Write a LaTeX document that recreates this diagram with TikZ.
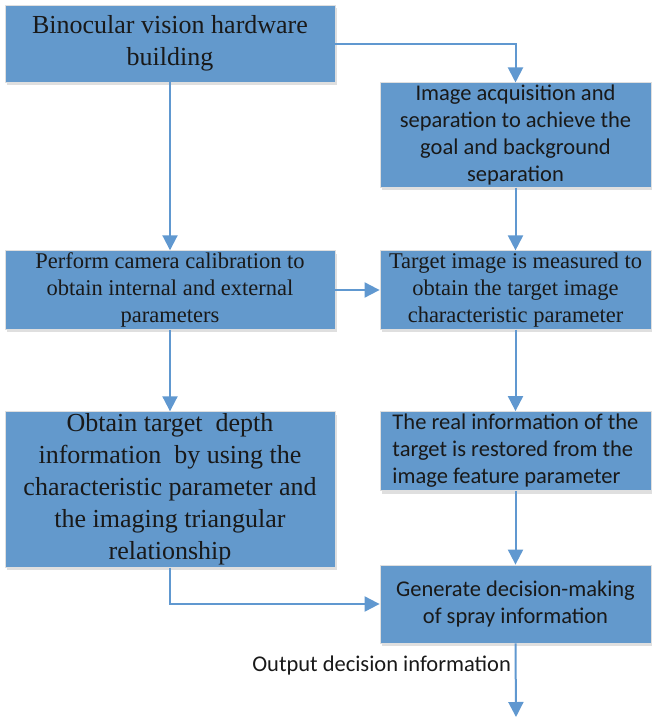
\documentclass[tikz,border=0pt]{standalone}
\usepackage{fontspec}
\setmainfont{Liberation Serif}
\newfontfamily\calibri{Carlito}
\usetikzlibrary{positioning, arrows.meta, shadows}
\definecolor{boxblue}{RGB}{99,153,204}
\definecolor{lineblue}{RGB}{96,152,208}
\begin{document}
\begin{tikzpicture}[x=1pt, y=-1pt,
	box/.style={draw=gray!25, line width=0.8pt, fill=boxblue, align=center, text=black!90,
		inner sep=2pt, drop shadow={shadow xshift=2pt, shadow yshift=-3pt, opacity=0.25}},
	leftbox/.style={box, minimum width=330pt},
	rightbox/.style={box, minimum width=271pt},
	serifbig/.style={font=\fontsize{26}{32}\selectfont},
	serifmid/.style={font=\fontsize{22.5}{27}\selectfont},
	sansmid/.style={font=\calibri\fontsize{22.5}{27}\selectfont},
	arrow/.style={-{Triangle[length=15pt, width=15pt]}, lineblue, line width=2pt}]
	\useasboundingbox (0,0) rectangle (651,717);

	% left column
	\node[leftbox, serifbig, minimum height=77pt] (build) at (170,43.5) {Binocular vision hardware\\building};
	\node[leftbox, serifmid, minimum height=76pt] (calib) at (170,290) {Perform camera calibration to\\obtain internal and external\\parameters};
	\node[leftbox, serifbig, minimum height=155pt] (depth) at (170,489.5) {Obtain target\ \ depth\\information\ \ by using the\\characteristic parameter and\\the imaging triangular\\relationship};

	% right column
	\node[rightbox, sansmid, minimum height=102pt] (acq) at (515.5,135) {Image acquisition and\\separation to achieve the\\goal and background\\separation};
	\node[rightbox, serifmid, minimum height=76pt] (measure) at (515.5,290) {Target image is measured to\\obtain the target image\\characteristic parameter};
	\node[rightbox, sansmid, minimum height=79pt, align=left] (restore) at (515.5,451) {The real information of the\\target is restored from the\\image feature parameter};
	\node[rightbox, sansmid, minimum height=78pt] (decide) at (515.5,604) {Generate decision-making\\of spray information};

	\coordinate (out) at (516,717);
	\node[font=\calibri\fontsize{22.5}{26}\selectfont, text=black!90, left=1pt of decide.south, anchor=north east, yshift=-9pt] (outlabel) {Output decision information};

	% connectors
	\draw[arrow] (build.east |- 0,44) -| (acq.north);
	\draw[arrow] (build) -- (calib);
	\draw[arrow] (acq) -- (measure);
	\draw[arrow] (calib) -- (measure);
	\draw[arrow] (calib) -- (depth);
	\draw[arrow] (measure) -- (restore);
	\draw[arrow] (restore) -- (decide);
	\draw[arrow] (depth.south) |- (decide.west);
	\draw[arrow] (decide.south) -- (out);
\end{tikzpicture}
\end{document}
